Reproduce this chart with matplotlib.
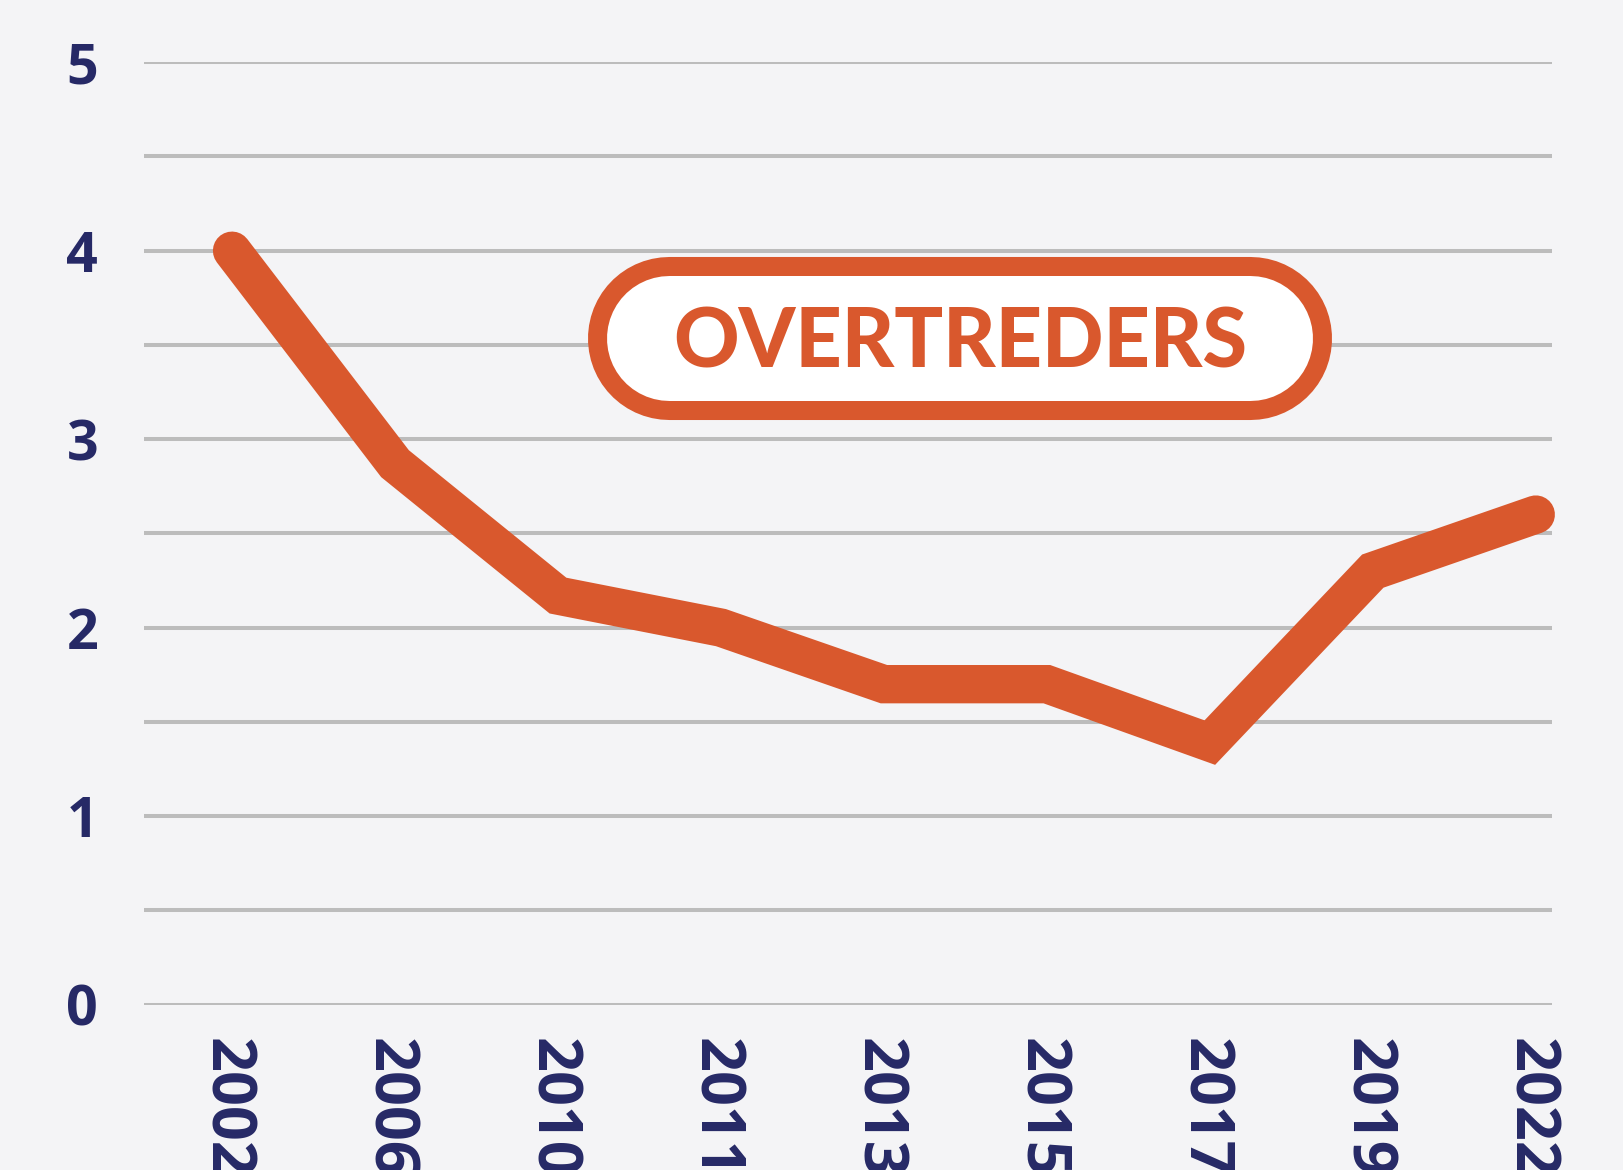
import matplotlib.pyplot as plt
from matplotlib.lines import Line2D

# data
years = ["2002", "2006", "2010", "2011", "2013", "2015", "2017", "2019", "2022"]
overtreders = [4.0, 2.87, 2.17, 2.0, 1.7, 1.7, 1.39, 2.3, 2.6]
label_text = "OVERTREDERS"

BG = "#f4f4f6"
ORANGE = "#d9582d"
NAVY = "#262966"
GRID = "#bcbcbc"

fig = plt.figure(figsize=(16.24, 11.7), dpi=100, facecolor=BG)
ax = fig.add_axes([0.0887, 0.1414, 0.867, 0.8054])
ax.set_facecolor(BG)

x = list(range(len(years)))
ax.plot(x, overtreders, color=ORANGE, lw=27.6, solid_joinstyle="miter",
        solid_capstyle="round", clip_on=False, zorder=3)

ax.set_xlim(-0.54, 8.1)
ax.set_ylim(0, 5)
ax.set_yticks([v / 2 for v in range(11)])
ax.set_yticklabels([str(v // 2) if v % 2 == 0 else "" for v in range(11)])
ax.set_xticks(x)
ax.set_xticklabels(years, rotation=-90, rotation_mode="anchor",
                   ha="left", va="center_baseline")

for lab in ax.get_xticklabels():
    lab.set_fontsize(44)
for lab in ax.get_yticklabels():
    lab.set_fontsize(40)
for lab in ax.get_xticklabels() + ax.get_yticklabels():
    lab.set_fontfamily("Open Sans")
    lab.set_fontweight("bold")
    lab.set_color(NAVY)

ax.tick_params(axis="y", length=0, pad=33)
ax.tick_params(axis="x", length=0, pad=24)
for s in ax.spines.values():
    s.set_visible(False)

ax.grid(axis="y", color=GRID, lw=2.9, zorder=1)
ax.grid(axis="x", visible=False)
for gl in ax.get_ygridlines():
    gl.set_solid_capstyle("round")
ax.set_axisbelow(True)

# pill-shaped label: thick round-capped strokes (orange rim, white inside)
pill_x = [6.685, 12.495]
pill_y = [8.325, 8.325]
for c, w in [(ORANGE, 117.4), ("white", 90.0)]:
    fig.add_artist(Line2D(pill_x, pill_y, color=c, lw=w, solid_capstyle="round",
                          transform=fig.dpi_scale_trans, zorder=5))

txt = fig.text(9.6 / 16.24, 1 - 3.44 / 11.7, label_text, ha="center", va="center",
               fontsize=60, fontweight="black", color=ORANGE,
               family=["Lato", "DejaVu Sans"], zorder=6)
# fit the word to roughly the width it has in the reference
fig.canvas.draw()
w = txt.get_window_extent().width
txt.set_fontsize(60 * 575 / w)

fig.savefig("out.png", dpi=100, facecolor=BG)
